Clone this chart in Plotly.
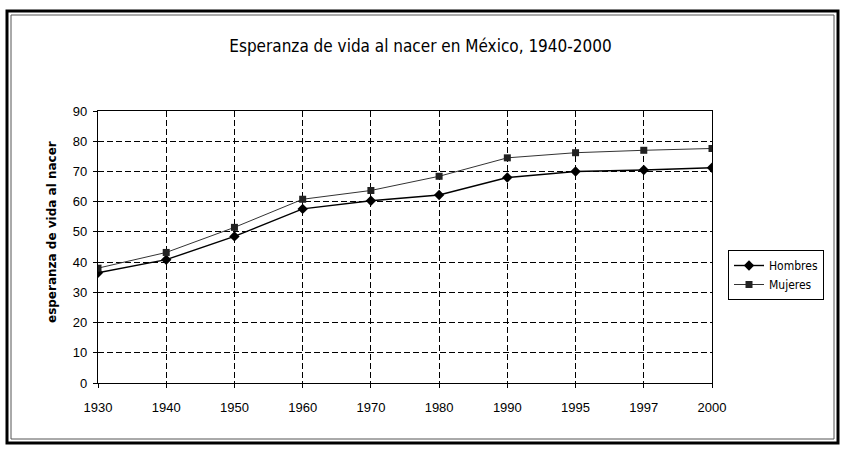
import plotly.graph_objects as go

years = ["1930", "1940", "1950", "1960", "1970", "1980", "1990", "1995", "1997", "2000"]
hombres = [36.5, 40.8, 48.5, 57.6, 60.3, 62.2, 68.0, 70.0, 70.5, 71.2]
mujeres = [38.0, 43.2, 51.5, 60.8, 63.7, 68.4, 74.5, 76.2, 77.0, 77.6]
y_ticks = [0, 10, 20, 30, 40, 50, 60, 70, 80, 90]

FONT = "Liberation Sans, Arial, sans-serif"
NARROW = "DejaVu Sans Condensed, Liberation Sans Narrow, Arial Narrow, Liberation Sans, Arial, sans-serif"

fig = go.Figure()
fig.add_trace(go.Scatter(
    x=years, y=hombres, name="Hombres", mode="lines+markers",
    line=dict(color="black", width=1.4),
    marker=dict(symbol="diamond", size=8, color="black"),
))
fig.add_trace(go.Scatter(
    x=years, y=mujeres, name="Mujeres", mode="lines+markers",
    line=dict(color="#333333", width=1),
    marker=dict(symbol="square", size=7, color="#222222"),
))

# plot area in pixels: left 98, right 712, top 111, bottom 383
L, R, T, B = 98, 712, 111, 383
W, H = 841, 449
def px(x):
    return (x - L) / (R - L)
def py(y):
    return (B - y) / (B - T)

fig.update_layout(
    width=W, height=H,
    margin=dict(l=L, r=W - R, t=T, b=H - B, pad=0),
    paper_bgcolor="white", plot_bgcolor="white",
    font=dict(family=FONT, size=13, color="black"),
    title=dict(
        text="Esperanza de vida al nacer en México, 1940-2000",
        x=0.5, xref="container", xanchor="center",
        y=1 - 46 / H, yref="container", yanchor="middle",
        font=dict(family=NARROW, size=17, color="black"),
    ),
    showlegend=True,
    legend=dict(
        x=px(728), y=py(250), xanchor="left", yanchor="top",
        bordercolor="black", borderwidth=1, bgcolor="white",
        font=dict(family=NARROW, size=12, color="black"),
        itemwidth=30, tracegroupgap=0,
    ),
    xaxis=dict(
        type="category", range=[0, 9],
        showline=True, linecolor="black", linewidth=1.2,
        mirror=True,
        ticks="outside", ticklen=4, tickcolor="black",
        ticklabelstandoff=8,
        showgrid=True, gridcolor="black", gridwidth=1.2, griddash="6px,3px",
        tickfont=dict(family=FONT, size=13),
        zeroline=False,
    ),
    yaxis=dict(
        range=[0, 90], tickvals=y_ticks,
        showline=True, linecolor="black", linewidth=1.2,
        mirror=True,
        ticks="outside", ticklen=4, tickcolor="black",
        ticklabelstandoff=3,
        showgrid=True, gridcolor="black", gridwidth=1.2, griddash="6px,3px",
        tickfont=dict(family=FONT, size=13),
        zeroline=False,
    ),
    annotations=[dict(
        text="<b>esperanza de vida al nacer</b>",
        x=px(52), y=py(232), xref="paper", yref="paper",
        showarrow=False, textangle=-90,
        font=dict(family="DejaVu Sans, Liberation Sans, Arial, sans-serif", size=12, color="black"),
        xanchor="center", yanchor="middle",
    )],
    shapes=[
        dict(type="rect", xref="paper", yref="paper",
             x0=px(7), x1=px(838), y0=py(443), y1=py(11),
             line=dict(color="black", width=3)),
        dict(type="rect", xref="paper", yref="paper",
             x0=px(11), x1=px(834), y0=py(439), y1=py(15),
             line=dict(color="#555555", width=1)),
    ],
)

fig.write_html(
    "out.html",
    config={"displayModeBar": False},
    post_script="document.body.style.margin='0px';document.body.style.overflow='hidden';",
)
